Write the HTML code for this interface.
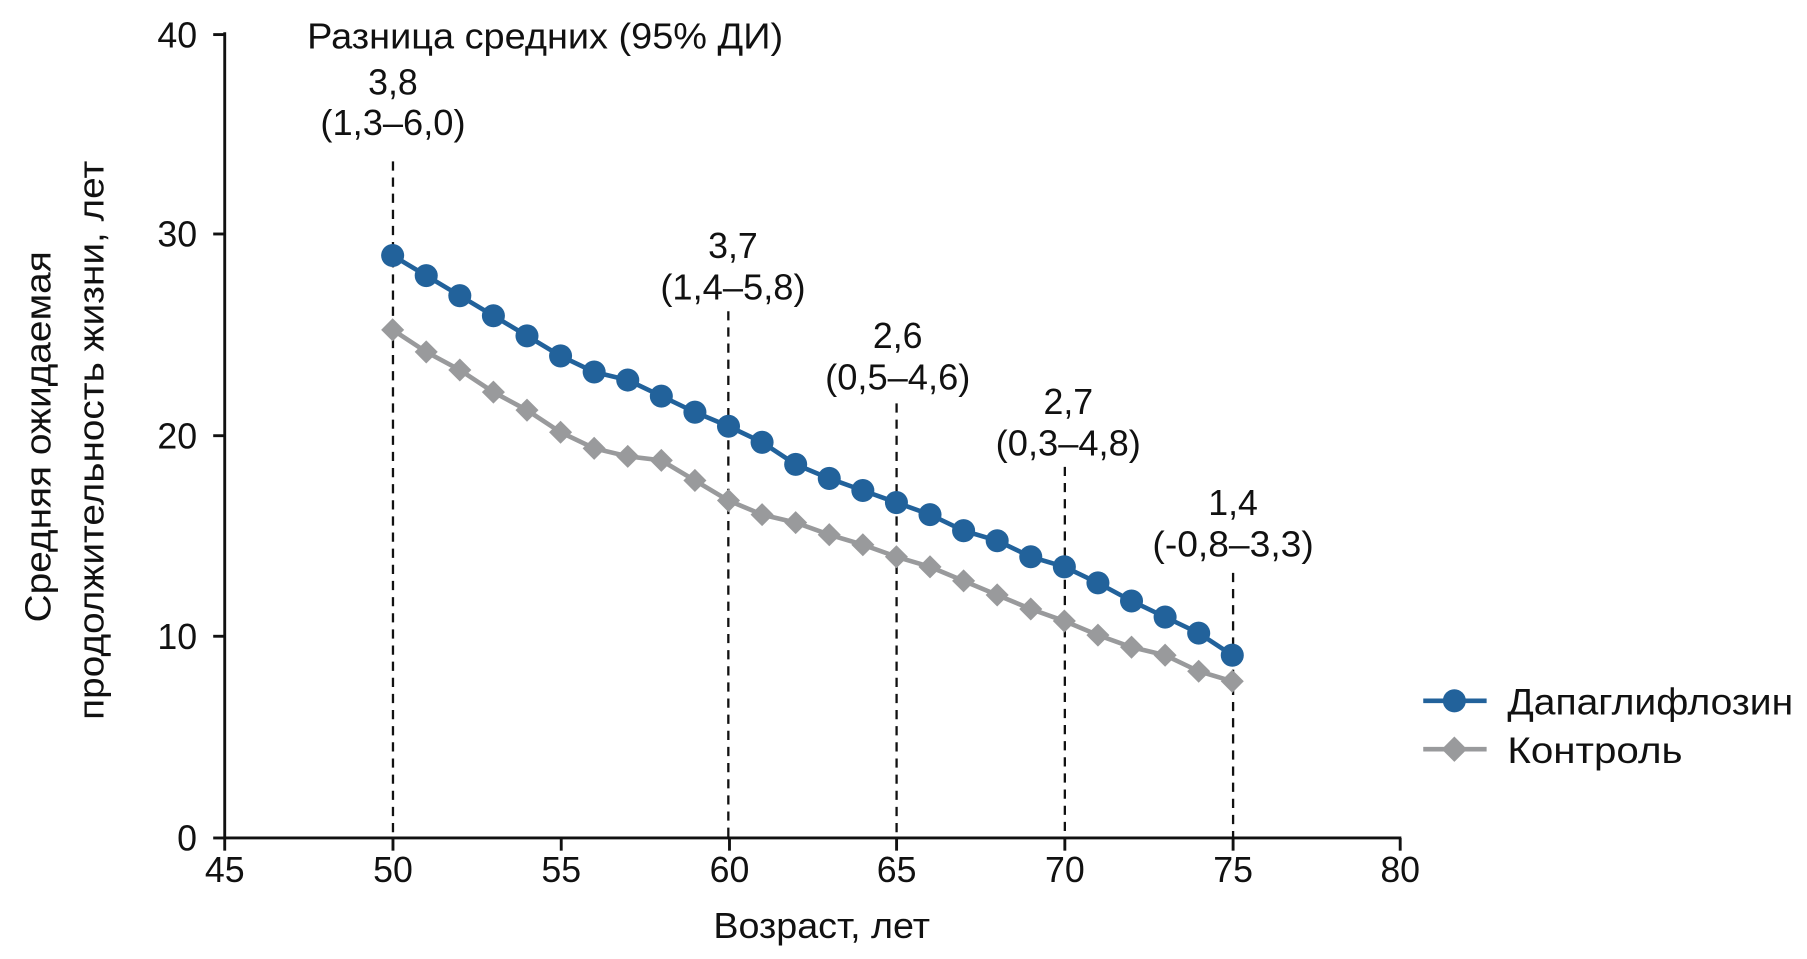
<!DOCTYPE html>
<html><head><meta charset="utf-8"><style>
html,body{margin:0;padding:0;background:#fff;}
svg{display:block;}
text{font-family:"Liberation Sans","DejaVu Sans",sans-serif;fill:#111;}
</style></head><body>
<svg id="c" width="1807" height="959" viewBox="0 0 1568 832" preserveAspectRatio="none">
<g stroke="#111" stroke-width="2.5" fill="none">
<line x1="195" y1="28" x2="195" y2="728"/>
<line x1="194" y1="727" x2="1216" y2="727"/>
<line x1="185" y1="30" x2="195" y2="30"/>
<line x1="185" y1="203" x2="195" y2="203"/>
<line x1="185" y1="378" x2="195" y2="378"/>
<line x1="185" y1="552" x2="195" y2="552"/>
<line x1="185" y1="727" x2="195" y2="727"/>
<line x1="195" y1="727" x2="195" y2="738"/>
<line x1="341" y1="727" x2="341" y2="738"/>
<line x1="487" y1="727" x2="487" y2="738"/>
<line x1="633" y1="727" x2="633" y2="738"/>
<line x1="778" y1="727" x2="778" y2="738"/>
<line x1="924" y1="727" x2="924" y2="738"/>
<line x1="1070" y1="727" x2="1070" y2="738"/>
<line x1="1215" y1="727" x2="1215" y2="738"/>
</g>
<g stroke="#111" stroke-width="2" stroke-dasharray="8,6">
<line x1="341" y1="140" x2="341" y2="727"/>
<line x1="632" y1="270" x2="632" y2="727"/>
<line x1="778" y1="350" x2="778" y2="727"/>
<line x1="924" y1="405" x2="924" y2="727"/>
<line x1="1070" y1="497" x2="1070" y2="727"/>
</g>
<g font-size="31" text-anchor="end">
<text x="171" y="41">40</text><text x="171" y="214">30</text><text x="171" y="389">20</text><text x="171" y="563">10</text><text x="171" y="738">0</text>
</g>
<g font-size="31" text-anchor="middle">
<text x="195" y="765">45</text><text x="341" y="765">50</text><text x="487" y="765">55</text><text x="633" y="765">60</text><text x="778" y="765">65</text><text x="924" y="765">70</text><text x="1070" y="765">75</text><text x="1215" y="765">80</text>
<text x="473" y="42" textLength="413" lengthAdjust="spacingAndGlyphs">Разница средних (95% ДИ)</text>
<text x="341" y="82">3,8</text><text x="341" y="117" textLength="126" lengthAdjust="spacingAndGlyphs">(1,3–6,0)</text>
<text x="636" y="224">3,7</text><text x="636" y="260" textLength="126" lengthAdjust="spacingAndGlyphs">(1,4–5,8)</text>
<text x="779" y="302">2,6</text><text x="779" y="338" textLength="126" lengthAdjust="spacingAndGlyphs">(0,5–4,6)</text>
<text x="927" y="359">2,7</text><text x="927" y="395" textLength="126" lengthAdjust="spacingAndGlyphs">(0,3–4,8)</text>
<text x="1070" y="447">1,4</text><text x="1070" y="483" textLength="140" lengthAdjust="spacingAndGlyphs">(-0,8–3,3)</text>
<text x="713" y="814" textLength="188" lengthAdjust="spacingAndGlyphs">Возраст, лет</text>
<text transform="translate(44,379) rotate(-90)" textLength="322" lengthAdjust="spacingAndGlyphs">Средняя ожидаемая</text>
<text transform="translate(90,382) rotate(-90)" textLength="485" lengthAdjust="spacingAndGlyphs">продолжительность жизни, лет</text>
</g>
<g id="series"></g>
<line x1="1235" y1="608" x2="1290" y2="608" stroke="#22629b" stroke-width="4"/>
<circle cx="1262" cy="608" r="10" fill="#22629b"/>
<line x1="1235" y1="650" x2="1290" y2="650" stroke="#999a9c" stroke-width="4"/>
<path d="M1262 639 L1273 650 L1262 661 L1251 650 Z" fill="#999a9c"/>
<text x="1308" y="620" font-size="32" textLength="248" lengthAdjust="spacingAndGlyphs">Дапаглифлозин</text>
<text x="1308" y="662" font-size="32" textLength="152" lengthAdjust="spacingAndGlyphs">Контроль</text>
</svg>
<script>
var b=[29,28,27,26,25,24,23.2,22.8,22,21.2,20.5,19.7,18.6,17.9,17.3,16.7,16.1,15.3,14.8,14.0,13.5,12.7,11.8,11.0,10.2,9.1];
var g=[25.3,24.2,23.3,22.2,21.3,20.2,19.4,19.0,18.8,17.8,16.8,16.1,15.7,15.1,14.6,14.0,13.5,12.8,12.1,11.4,10.8,10.1,9.5,9.1,8.3,7.8];
function X(a){return 195+(a-45)*29.143;}function Y(v){return 727-v*17.425;}
var s='',p='',q='';
for(var i=0;i<26;i++){var x=X(50+i);p+=(i?'L':'M')+x+' '+Y(b[i]);q+=(i?'L':'M')+x+' '+Y(g[i]);}
s+='<path d="'+q+'" stroke="#999a9c" stroke-width="4" fill="none"/>';
for(i=0;i<26;i++){var x=X(50+i),y=Y(g[i]);s+='<path d="M'+x+' '+(y-10)+' L'+(x+10)+' '+y+' L'+x+' '+(y+10)+' L'+(x-10)+' '+y+' Z" fill="#999a9c"/>';}
s+='<path d="'+p+'" stroke="#22629b" stroke-width="4" fill="none"/>';
for(i=0;i<26;i++){s+='<circle cx="'+X(50+i)+'" cy="'+Y(b[i])+'" r="10" fill="#22629b"/>';}
document.getElementById('series').innerHTML=s;
</script>
</body></html>
